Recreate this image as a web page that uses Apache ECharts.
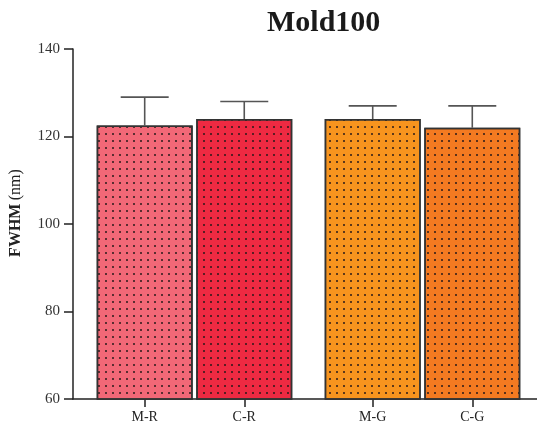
<!DOCTYPE html>
<html>
<head>
<meta charset="utf-8">
<script src="https://cdn.jsdelivr.net/npm/echarts@6/dist/echarts.min.js"></script>
<style>
  html, body { margin: 0; padding: 0; background: #fff; }
  #chart { width: 537px; height: 425px; }
</style>
</head>
<body>
<div id="chart"></div>
<script>
// FWHM of the Mold100 samples: mean and upper standard deviation per sample
const categories = ['M-R', 'C-R', 'M-G', 'C-G'];
const groupOf = [0, 0, 1, 1];          // R pair, G pair
const means = [122.5, 124, 124, 122];
const sdUpper = [6.5, 4, 3, 5];
const yTicks = [60, 80, 100, 120, 140];

const palette = ['#F26877', '#EE2A42', '#F7941E', '#F47A21'];
const GROUP_GAP = 0.29;                // extra spacing between the two pairs (in bar slots)
const FONT = '"Liberation Serif", "Times New Roman", serif';

// slot position of each bar along the x axis
const positions = categories.map((_, i) => groupOf[i] * (2 + GROUP_GAP) + (i % 2));

function labelFor(v) {
  const idx = positions.findIndex(p => Math.abs(p - v) < 1e-6);
  return idx >= 0 ? categories[idx] : '';
}

const chart = echarts.init(document.getElementById('chart'), null, { renderer: 'canvas' });

chart.setOption({
  animation: false,
  backgroundColor: '#ffffff',
  title: {
    text: 'Mold100',
    left: 267,
    top: 8,
    padding: 0,
    textStyle: { fontFamily: FONT, fontWeight: 'bold', fontSize: 30, color: '#1a1a1a' }
  },
  grid: { left: 71, right: 0, top: 49, bottom: 26, containLabel: false },
  xAxis: {
    type: 'value',
    min: -0.72,
    max: 3.94,
    splitLine: { show: false },
    axisLine: { show: true, onZero: false, lineStyle: { color: '#222', width: 1.5 } },
    axisTick: { show: true, length: 8, customValues: positions, lineStyle: { color: '#222', width: 1.5 } },
    axisLabel: {
      customValues: positions,
      formatter: labelFor,
      margin: 11,
      fontFamily: FONT, fontSize: 14, color: '#222'
    }
  },
  yAxis: {
    type: 'value',
    min: yTicks[0],
    max: yTicks[yTicks.length - 1],
    interval: 20,
    splitLine: { show: false },
    axisLine: { show: true, onZero: false, lineStyle: { color: '#222', width: 1.5 } },
    axisTick: { show: true, length: 9, lineStyle: { color: '#222', width: 1.5 } },
    axisLabel: {
      margin: 13,
      fontFamily: FONT, fontSize: 15, color: '#333',
      verticalAlign: 'middle',
      padding: [0, 0, 7, 0]
    },
    name: '{b|FWHM} {n|(nm)}',
    nameLocation: 'middle',
    nameRotate: 90,
    nameGap: 49,
    nameTextStyle: {
      padding: [0, 0, 0, 22],
      rich: {
        b: { fontFamily: FONT, fontSize: 16, fontWeight: 'bold', color: '#222' },
        n: { fontFamily: FONT, fontSize: 16, color: '#222' }
      }
    }
  },
  series: [
    {
      type: 'bar',
      barWidth: 96,
      clip: true,
      data: means.map((v, i) => ({
        value: [positions[i], v],
        itemStyle: { color: palette[i] }
      })),
      itemStyle: {
        borderColor: '#333',
        borderWidth: 1.5,
        decal: {
          symbol: 'rect',
          symbolSize: 1,
          color: 'rgba(40, 25, 25, 0.75)',
          dashArrayX: [1.7, 4.8],
          dashArrayY: [1.7, 5.0],
          rotation: 0
        }
      },
      z: 2
    },
    {
      type: 'custom',
      z: 3,
      encode: { x: 0, y: [1, 2] },
      data: means.map((v, i) => [positions[i], v, v + sdUpper[i]]),
      renderItem: function (params, api) {
        const x = api.value(0);
        const base = api.coord([x, api.value(1)]);
        const top = api.coord([x, api.value(2)]);
        const style = { stroke: '#555', lineWidth: 1.6 };
        return {
          type: 'group',
          children: [
            { type: 'line', shape: { x1: base[0], y1: base[1], x2: top[0], y2: top[1] }, style: style },
            { type: 'line', shape: { x1: top[0] - 24, y1: top[1], x2: top[0] + 24, y2: top[1] }, style: style }
          ]
        };
      }
    }
  ]
});
</script>
</body>
</html>
